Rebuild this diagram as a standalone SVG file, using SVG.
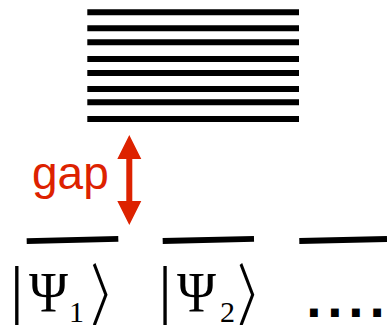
<svg xmlns="http://www.w3.org/2000/svg" width="387" height="325" viewBox="0 0 387 325">
<style>
.lvl{stroke:#000;stroke-width:6;fill:none}
.st{stroke:#000;stroke-width:5.8;fill:none}
.ket{font-family:"Liberation Serif","DejaVu Serif",serif;fill:#000}
.ang{font-family:"Noto Sans CJK JP","DejaVu Sans",sans-serif;fill:#000}
.gap{font-family:"Liberation Sans",Arial,sans-serif;font-size:46px;fill:#dd2200}
</style>
<g id="band">
<line class="lvl" x1="87.3" y1="12.3" x2="299" y2="12.3"/>
<line class="lvl" x1="87.3" y1="28.3" x2="299" y2="28.3"/>
<line class="lvl" x1="87.3" y1="42.3" x2="299" y2="42.3"/>
<line class="lvl" x1="87.3" y1="59" x2="299" y2="59"/>
<line class="lvl" x1="87.3" y1="73" x2="299" y2="73"/>
<line class="lvl" x1="87.3" y1="89" x2="299" y2="89"/>
<line class="lvl" x1="87.3" y1="102.3" x2="299" y2="102.3"/>
<line class="lvl" x1="87.3" y1="119" x2="299" y2="119"/>
</g>
<g id="connectors">
<path d="M129.3 135 L141.3 159 L132.3 159 L132.3 201 L141.3 201 L129.3 225 L117.3 201 L126.3 201 L126.3 159 L117.3 159 Z" fill="#dd2200"/>
</g>
<g id="gap-label">
<text class="gap" x="32" y="189">gap</text>
</g>
<g id="state1">
<line class="st" x1="26.7" y1="241.2" x2="118.3" y2="238.8"/>
<text class="ket" x="10" y="314" font-size="68">|</text>
<text class="ket" x="29" y="311.7" font-size="56" textLength="39" lengthAdjust="spacingAndGlyphs">Ψ</text>
<text class="ket" x="69" y="321.7" font-size="30" fill="#000">1</text>
<text class="ang" transform="matrix(0.6 0 0 1 90.8 0)" x="0" y="321" font-size="68">〉</text>
</g>
<g id="state2">
<line class="st" x1="162.7" y1="241" x2="254" y2="238.8"/>
<text class="ket" x="158.3" y="314" font-size="68">|</text>
<text class="ket" x="177" y="311.7" font-size="56" textLength="39" lengthAdjust="spacingAndGlyphs">Ψ</text>
<text class="ket" x="220" y="321.7" font-size="30" fill="#000">2</text>
<text class="ang" transform="matrix(0.6 0 0 1 237.5 0)" x="0" y="321" font-size="68">〉</text>
</g>
<g id="state3">
<line class="st" x1="299.3" y1="241" x2="387" y2="239"/>
<text x="305.6" y="316.7" font-family="DejaVu Sans" font-weight="bold" font-size="44" letter-spacing="4.3">....</text>
</g>
</svg>
